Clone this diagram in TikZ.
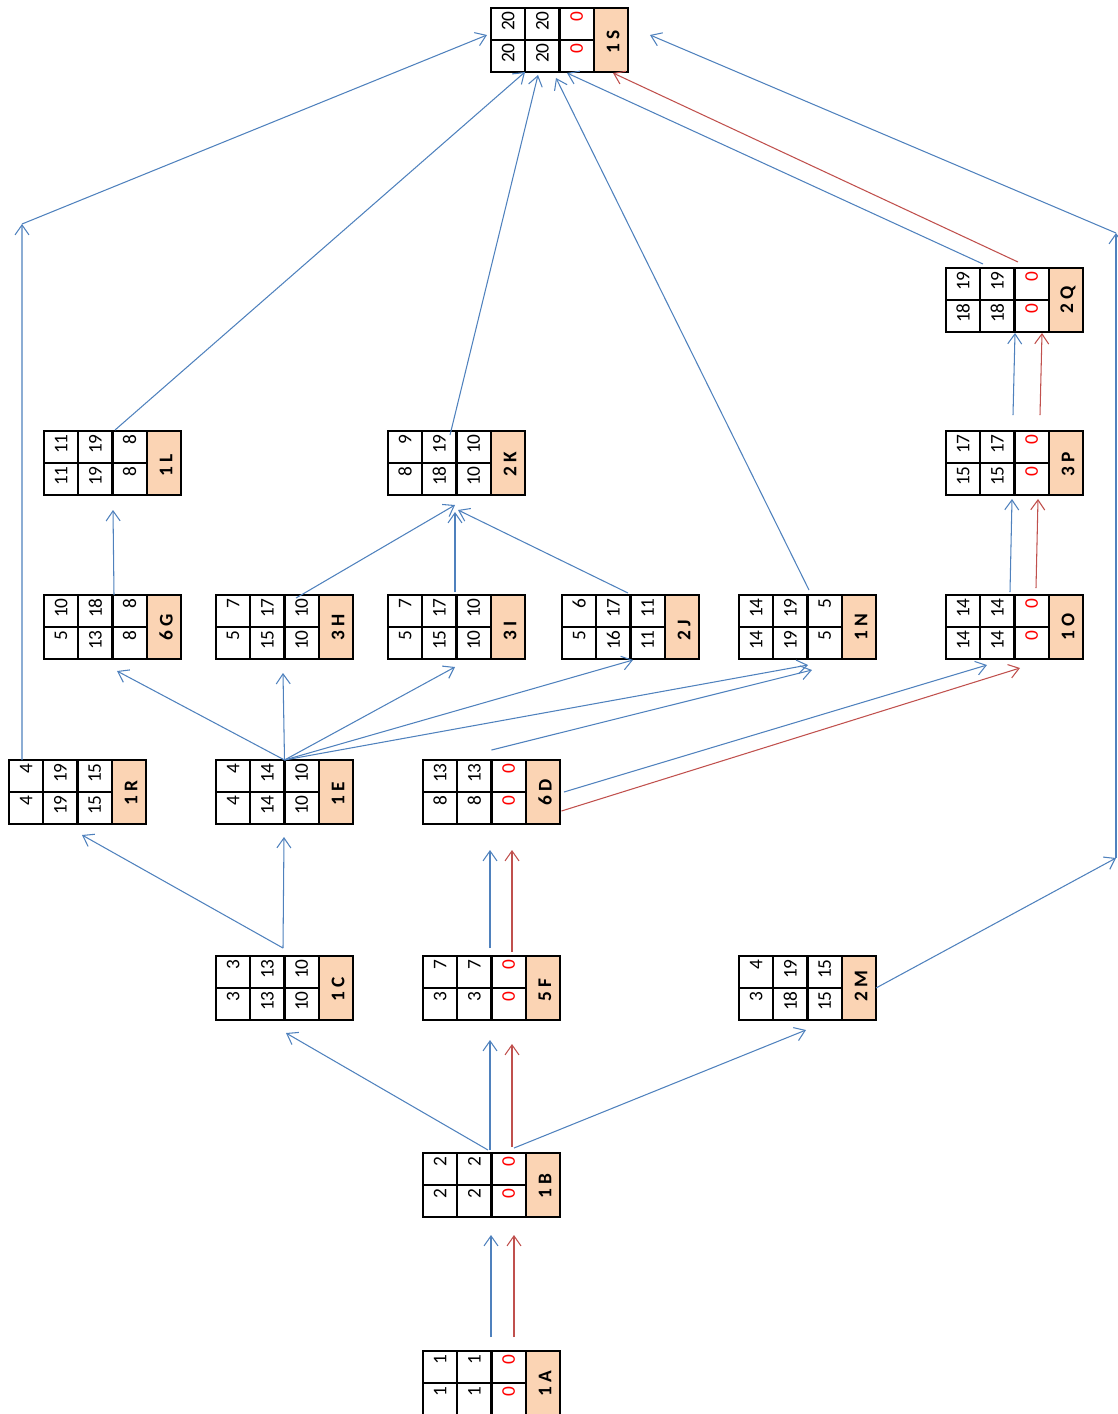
\documentclass[tikz,border=0pt]{standalone}
\usepackage{fontspec}
\setmainfont{Carlito}
\usepackage{tikz}
\usetikzlibrary{arrows.meta, calc}
\definecolor{azul}{RGB}{79,129,189}
\definecolor{vermelho}{RGB}{192,80,77}
\definecolor{laranja}{RGB}{251,212,180}
\newcommand{\zr}{\textcolor{red}{0}}
% caixa de uma tarefa: nome, centro, linha de cima (3), linha de baixo (3), rotulo
\newcommand{\tarefa}[9]{%
  \node[caixa] (#1) at (#2) {};
  \begin{scope}[shift={(#1.north west)}]
    \fill[laranja] (102.75,0) rectangle (137,64);
    \draw[grade] (0,32) -- (102.75,32);
    \foreach \cx in {34.25,68.5,102.75} \draw[grade] (\cx,0) -- (\cx,64);
    \draw[grade] (0,0) rectangle (137,64);
    \node[num] at (17.1,3) {#3};
    \node[num] at (51.4,3) {#4};
    \node[num] at (85.6,3) {#5};
    \node[num] at (17.1,35) {#6};
    \node[num] at (51.4,35) {#7};
    \node[num] at (85.6,35) {#8};
    \node[rotulo] at (122,46) {#9};
  \end{scope}}

\begin{document}
\begin{tikzpicture}[x=0.02cm, y=-0.02cm,
    caixa/.style={minimum width=2.74cm, minimum height=1.28cm, inner sep=0pt, outer sep=0pt},
    grade/.style={line width=1.2pt, black},
    num/.style={rotate=90, anchor=east, inner sep=0pt, font=\fontsize{11}{13}\selectfont},
    rotulo/.style={rotate=90, anchor=west, inner sep=0pt, font=\fontsize{11}{13}\selectfont\bfseries},
    seta/.style={-{Straight Barb[length=2mm, width=2.8mm]}, line width=0.6pt, azul},
    setaV/.style={seta, vermelho}
  ]
    \useasboundingbox (0,0) rectangle (1117,1414);

    \tarefa{S}{559.5,40}{20}{20}{\zr}{20}{20}{\zr}{1 S}
    \tarefa{Q}{1014.5,300}{19}{19}{\zr}{18}{18}{\zr}{2 Q}
    \tarefa{P}{1014.5,463}{17}{17}{\zr}{15}{15}{\zr}{3 P}
    \tarefa{L}{112.5,463}{11}{19}{8}{11}{19}{8}{1 L}
    \tarefa{K}{456.5,463}{9}{19}{10}{8}{18}{10}{2 K}
    \tarefa{G}{112.5,627}{10}{18}{8}{5}{13}{8}{6 G}
    \tarefa{H}{284.5,627}{7}{17}{10}{5}{15}{10}{3 H}
    \tarefa{I}{456.5,627}{7}{17}{10}{5}{15}{10}{3 I}
    \tarefa{J}{630.5,627}{6}{17}{11}{5}{16}{11}{2 J}
    \tarefa{N}{807.5,627}{14}{19}{5}{14}{19}{5}{1 N}
    \tarefa{O}{1014.5,627}{14}{14}{\zr}{14}{14}{\zr}{1 O}
    \tarefa{R}{77.5,792}{4}{19}{15}{4}{19}{15}{1 R}
    \tarefa{E}{284.5,792}{4}{14}{10}{4}{14}{10}{1 E}
    \tarefa{D}{491.5,792}{13}{13}{\zr}{8}{8}{\zr}{6 D}
    \tarefa{C}{284.5,988}{3}{13}{10}{3}{13}{10}{1 C}
    \tarefa{F}{491.5,988}{7}{7}{\zr}{3}{3}{\zr}{5 F}
    \tarefa{M}{807.5,988}{4}{19}{15}{3}{18}{15}{2 M}
    \tarefa{B}{491.5,1185}{2}{2}{\zr}{2}{2}{\zr}{1 B}
    \tarefa{A}{491.5,1383}{1}{1}{\zr}{1}{1}{\zr}{1 A}

    % pontos de passagem das ligacoes
    \coordinate (dR) at (22,224);
    \coordinate (dM) at (1116,858);
    \coordinate (dS) at (1116,233);

    \draw[seta] ($(A.north)+(-0.5,-14)$) -- ($(B.south)+(-0.5,18)$);
    \draw[setaV] ($(A.north)+(22.5,-14)$) -- ($(B.south)+(22.5,18)$);
    \draw[seta] ($(B.north)+(-3.5,-3)$) -- ($(C.south)+(1.5,13)$);
    \draw[seta] ($(B.north)+(-1.5,-3)$) -- ($(F.south)+(-1.5,20)$);
    \draw[setaV] ($(B.north)+(20.5,-6)$) -- ($(F.south)+(20.5,24)$);
    \draw[seta] ($(B.north)+(22.5,-5)$) -- ($(M.south)+(-1.5,10)$);
    \draw[seta] ($(C.north)+(-1.5,-8)$) -- ($(R.south)+(4.5,11)$);
    \draw[seta] ($(C.north)+(-1.5,-8)$) -- ($(E.south)+(-0.5,13)$);
    \draw[seta] ($(F.north)+(-1.5,-8)$) -- ($(D.south)+(-1.5,26)$);
    \draw[setaV] ($(F.north)+(20.5,-4)$) -- ($(D.south)+(20.5,26)$);
    \draw[seta] (M.east) -- (dM);
    \draw[seta] (dM) -- (dS);
    \draw[seta] (dS) -- ($(S.east)+(22,-5)$);
    \draw[seta] ($(R.north west)+(13,0)$) -- (dR);
    \draw[seta] (dR) -- ($(S.west)+(-4,-5)$);
    \draw[seta] (E.north) -- ($(G.south)+(4.5,12)$);
    \draw[seta] (E.north) -- ($(H.south)+(-1.5,14)$);
    \draw[seta] (E.north) -- ($(I.south)+(-1.5,8)$);
    \draw[seta] (E.north) -- ($(J.south)+(2.5,1)$);
    \draw[seta] (E.north) -- ($(N.south)+(0.5,6)$);
    \draw[seta] ($(D.north)+(0,-10)$) -- ($(N.south)+(4.5,11)$);
    \draw[seta] ($(D.east)+(4,0)$) -- ($(O.south)+(-27.5,6)$);
    \draw[setaV] ($(D.east)+(1.5,19)$) -- ($(O.south)+(5.5,9)$);
    \draw[seta] ($(G.north)+(1.5,0)$) -- ($(L.south)+(0.5,15)$);
    \draw[seta] ($(H.north)+(11.5,3)$) -- ($(K.south)+(-1.5,10)$);
    \draw[seta] ($(I.north)+(-1.5,-3)$) -- ($(K.south)+(-1.5,17)$);
    \draw[seta] ($(J.north)+(-2.5,-2)$) -- ($(K.south)+(1.5,15)$);
    \draw[seta] ($(N.north)+(1.5,-5)$) -- ($(S.south)+(-3.5,6)$);
    \draw[seta] ($(O.north)+(-4.5,-3)$) -- ($(P.south)+(-2.5,4)$);
    \draw[setaV] ($(O.north)+(21.5,-7)$) -- ($(P.south)+(23.5,4)$);
    \draw[seta] ($(P.north)+(-1.5,-16)$) -- ($(Q.south)+(0.5,1)$);
    \draw[setaV] ($(P.north)+(25.5,-16)$) -- ($(Q.south)+(27.5,1)$);
    \draw[seta] ($(Q.north)+(-31.5,-4)$) -- ($(S.south)+(7.5,1)$);
    \draw[setaV] ($(Q.north)+(3.5,-6)$) -- ($(S.south)+(53.5,1)$);
    \draw[seta] ($(L.north)+(2.5,-1)$) -- ($(S.south)+(-34.5,0)$);
    \draw[seta] ($(K.north)+(-6.5,4)$) -- ($(S.south)+(-21.5,3)$);
  \end{tikzpicture}
\end{document}
